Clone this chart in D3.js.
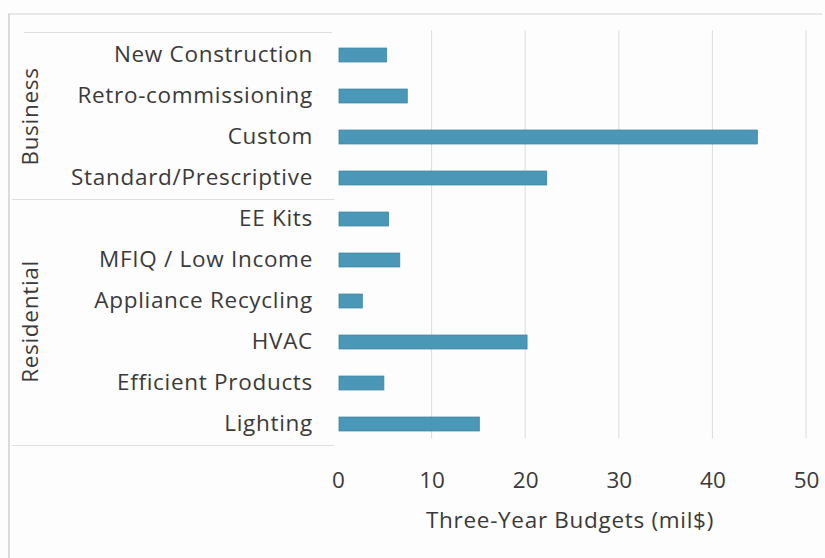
<!DOCTYPE html>
<html>
<head>
<meta charset="utf-8">
<script src="https://cdn.jsdelivr.net/npm/d3@7"></script>
<style>
  html, body { margin: 0; padding: 0; background: #fdfdfd; }
  svg { display: block; }
  text { font-family: "Open Sans", Lato, sans-serif; fill: #3a3a3a; }
</style>
</head>
<body>
<svg id="chart" width="825" height="558"></svg>
<script>
// Program categories, top to bottom
const categories = [
  "New Construction", "Retro-commissioning", "Custom", "Standard/Prescriptive",
  "EE Kits", "MFIQ / Low Income", "Appliance Recycling", "HVAC",
  "Efficient Products", "Lighting"
];
// Three-year budgets, millions of dollars
const budgets = [5.2, 7.4, 44.8, 22.3, 5.4, 6.6, 2.6, 20.2, 4.9, 15.1];
// Sector groups: name and how many categories each spans
const groupNames = ["Business", "Residential"];
const groupSizes = [4, 6];
const xTicks = [0, 10, 20, 30, 40, 50];
const xTitle = "Three-Year Budgets (mil$)";

const FONT = 22.5;
const SPACING = "0.7px";
const svg = d3.select("#chart");
const plot = { left: 338, right: 806, top: 34.5, bottom: 444.5 };

const x = d3.scaleLinear().domain([0, 50]).range([plot.left, plot.right]);
const y = d3.scaleBand().domain(categories).range([plot.top, plot.bottom]).paddingInner(0.66).paddingOuter(0.33);

// outer frame
svg.append("line").attr("x1", 8).attr("x2", 822).attr("y1", 14).attr("y2", 14)
  .attr("stroke", "#d4d4d4").attr("stroke-width", 1.2);
svg.append("line").attr("x1", 9).attr("x2", 9).attr("y1", 14).attr("y2", 558)
  .attr("stroke", "#cfcfcf").attr("stroke-width", 1.5);

// vertical gridlines
svg.append("g")
  .selectAll("line")
  .data(xTicks.filter(d => d > 0))
  .join("line")
  .attr("x1", d => x(d)).attr("x2", d => x(d))
  .attr("y1", plot.top - 4).attr("y2", plot.bottom - 6)
  .attr("stroke", "#dcdcdc").attr("stroke-width", 1);

// bars
svg.append("g")
  .selectAll("rect")
  .data(categories)
  .join("rect")
  .attr("x", x(0) + 1)
  .attr("y", d => y(d))
  .attr("width", (d, i) => x(budgets[i]) - x(0) - 1)
  .attr("height", y.bandwidth())
  .attr("fill", "#4a97b7")
  .attr("stroke", "#3d86a3")
  .attr("stroke-width", 0.8);

// category labels
const yAxis = svg.append("g")
  .attr("transform", `translate(${plot.left - 25},0)`)
  .call(d3.axisLeft(y).tickSize(0).tickPadding(0));
yAxis.select(".domain").remove();
yAxis.selectAll("text")
  .attr("font-size", FONT)
  .attr("letter-spacing", SPACING)
  .attr("font-family", "'Open Sans', Lato, sans-serif")
  .attr("fill", "#3a3a3a");

// group separators and group labels
const step = y.step();
const sepStyle = sel => sel.attr("stroke", "#dedede").attr("stroke-width", 1.2);
svg.append("line").attr("x1", 24).attr("x2", plot.left - 6)
  .attr("y1", plot.top - 2).attr("y2", plot.top - 2).call(sepStyle);
let start = 0;
groupNames.forEach((g, gi) => {
  const first = categories[start];
  const last = categories[start + groupSizes[gi] - 1];
  const y0 = y(first) - y.paddingInner() * step / 2 - 1;
  const y1 = y(last) + y.bandwidth() + y.paddingInner() * step / 2 + 1;
  svg.append("line")
    .attr("x1", 12).attr("x2", plot.left - 4)
    .attr("y1", y1).attr("y2", y1)
    .call(sepStyle);
  svg.append("text")
    .attr("transform", `translate(38,${(y0 + y1) / 2}) rotate(-90)`)
    .attr("text-anchor", "middle")
    .attr("font-size", FONT)
    .attr("letter-spacing", SPACING)
    .text(g);
  start += groupSizes[gi];
});

// x axis tick labels
const xAxis = svg.append("g")
  .attr("transform", `translate(0,${plot.bottom + 28})`)
  .call(d3.axisBottom(x).tickValues(xTicks).tickSize(0).tickPadding(0));
xAxis.select(".domain").remove();
xAxis.selectAll("text")
  .attr("font-size", FONT)
  .attr("font-family", "'Open Sans', Lato, sans-serif")
  .attr("fill", "#3a3a3a");

// x axis title
svg.append("text")
  .attr("x", (plot.left + plot.right) / 2 - 2)
  .attr("y", 528)
  .attr("text-anchor", "middle")
  .attr("font-size", FONT)
  .attr("letter-spacing", SPACING)
  .text(xTitle);
</script>
</body>
</html>
